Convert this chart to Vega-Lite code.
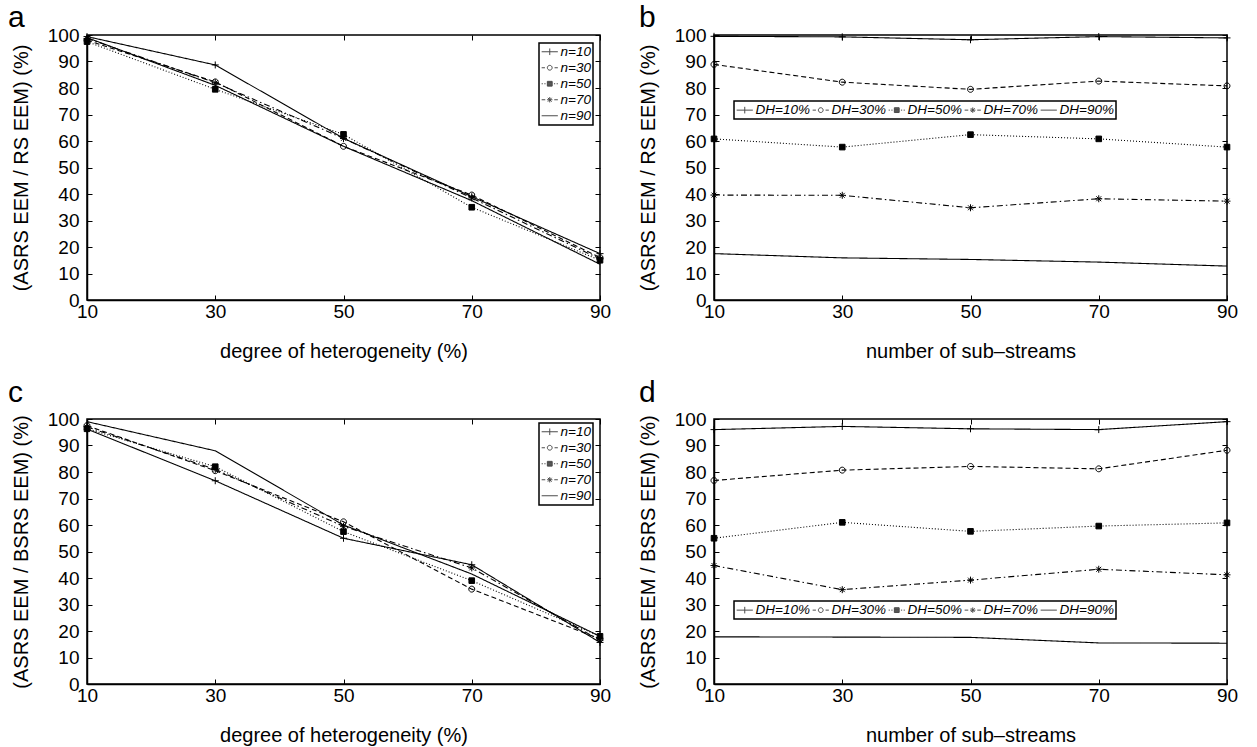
{
  "$schema": "https://vega.github.io/schema/vega-lite/v6.json",
  "autosize": {"type": "pad"},
  "padding": {"left": 7, "top": 2, "right": 5, "bottom": 0},
  "background": "white",
  "bounds": "flush",
  "columns": 2,
  "spacing": {"row": 119, "column": 114},
  "resolve": {"scale": {"shape": "independent"}, "legend": {"shape": "independent"}},
  "datasets": {
    "a": [
      {"x": 10, "y": 99.4, "s": "n=10"}, {"x": 30, "y": 88.7, "s": "n=10"}, {"x": 50, "y": 61, "s": "n=10"}, {"x": 70, "y": 39, "s": "n=10"}, {"x": 90, "y": 17.5, "s": "n=10"},
      {"x": 10, "y": 98, "s": "n=30"}, {"x": 30, "y": 82.3, "s": "n=30"}, {"x": 50, "y": 58, "s": "n=30"}, {"x": 70, "y": 39.6, "s": "n=30"}, {"x": 90, "y": 16, "s": "n=30"},
      {"x": 10, "y": 97.5, "s": "n=50"}, {"x": 30, "y": 79.5, "s": "n=50"}, {"x": 50, "y": 62.5, "s": "n=50"}, {"x": 70, "y": 35, "s": "n=50"}, {"x": 90, "y": 15, "s": "n=50"},
      {"x": 10, "y": 98.7, "s": "n=70"}, {"x": 30, "y": 82, "s": "n=70"}, {"x": 50, "y": 61, "s": "n=70"}, {"x": 70, "y": 38.5, "s": "n=70"}, {"x": 90, "y": 15.5, "s": "n=70"},
      {"x": 10, "y": 99, "s": "n=90"}, {"x": 30, "y": 81, "s": "n=90"}, {"x": 50, "y": 58, "s": "n=90"}, {"x": 70, "y": 37.5, "s": "n=90"}, {"x": 90, "y": 13.5, "s": "n=90"}
    ],
    "b": [
      {"x": 10, "y": 99.5, "s": "DH=10%"}, {"x": 30, "y": 99.3, "s": "DH=10%"}, {"x": 50, "y": 98.2, "s": "DH=10%"}, {"x": 70, "y": 99.4, "s": "DH=10%"}, {"x": 90, "y": 98.9, "s": "DH=10%"},
      {"x": 10, "y": 88.9, "s": "DH=30%"}, {"x": 30, "y": 82.2, "s": "DH=30%"}, {"x": 50, "y": 79.5, "s": "DH=30%"}, {"x": 70, "y": 82.6, "s": "DH=30%"}, {"x": 90, "y": 80.8, "s": "DH=30%"},
      {"x": 10, "y": 60.8, "s": "DH=50%"}, {"x": 30, "y": 57.7, "s": "DH=50%"}, {"x": 50, "y": 62.4, "s": "DH=50%"}, {"x": 70, "y": 60.8, "s": "DH=50%"}, {"x": 90, "y": 57.7, "s": "DH=50%"},
      {"x": 10, "y": 39.6, "s": "DH=70%"}, {"x": 30, "y": 39.5, "s": "DH=70%"}, {"x": 50, "y": 34.8, "s": "DH=70%"}, {"x": 70, "y": 38.2, "s": "DH=70%"}, {"x": 90, "y": 37.3, "s": "DH=70%"},
      {"x": 10, "y": 17.5, "s": "DH=90%"}, {"x": 30, "y": 15.9, "s": "DH=90%"}, {"x": 50, "y": 15.3, "s": "DH=90%"}, {"x": 70, "y": 14.3, "s": "DH=90%"}, {"x": 90, "y": 12.8, "s": "DH=90%"}
    ],
    "c": [
      {"x": 10, "y": 96.2, "s": "n=10"}, {"x": 30, "y": 76.7, "s": "n=10"}, {"x": 50, "y": 55, "s": "n=10"}, {"x": 70, "y": 45, "s": "n=10"}, {"x": 90, "y": 15.7, "s": "n=10"},
      {"x": 10, "y": 97.5, "s": "n=30"}, {"x": 30, "y": 80.5, "s": "n=30"}, {"x": 50, "y": 61.2, "s": "n=30"}, {"x": 70, "y": 35.8, "s": "n=30"}, {"x": 90, "y": 17, "s": "n=30"},
      {"x": 10, "y": 96.3, "s": "n=50"}, {"x": 30, "y": 82, "s": "n=50"}, {"x": 50, "y": 57.5, "s": "n=50"}, {"x": 70, "y": 39, "s": "n=50"}, {"x": 90, "y": 18, "s": "n=50"},
      {"x": 10, "y": 97, "s": "n=70"}, {"x": 30, "y": 81, "s": "n=70"}, {"x": 50, "y": 59.5, "s": "n=70"}, {"x": 70, "y": 43.8, "s": "n=70"}, {"x": 90, "y": 16.5, "s": "n=70"},
      {"x": 10, "y": 99, "s": "n=90"}, {"x": 30, "y": 88, "s": "n=90"}, {"x": 50, "y": 60, "s": "n=90"}, {"x": 70, "y": 41.5, "s": "n=90"}, {"x": 90, "y": 18, "s": "n=90"}
    ],
    "d": [
      {"x": 10, "y": 96, "s": "DH=10%"}, {"x": 30, "y": 97.2, "s": "DH=10%"}, {"x": 50, "y": 96.3, "s": "DH=10%"}, {"x": 70, "y": 96, "s": "DH=10%"}, {"x": 90, "y": 99, "s": "DH=10%"},
      {"x": 10, "y": 76.8, "s": "DH=30%"}, {"x": 30, "y": 80.7, "s": "DH=30%"}, {"x": 50, "y": 82.1, "s": "DH=30%"}, {"x": 70, "y": 81.2, "s": "DH=30%"}, {"x": 90, "y": 88.2, "s": "DH=30%"},
      {"x": 10, "y": 55, "s": "DH=50%"}, {"x": 30, "y": 61, "s": "DH=50%"}, {"x": 50, "y": 57.6, "s": "DH=50%"}, {"x": 70, "y": 59.6, "s": "DH=50%"}, {"x": 90, "y": 60.8, "s": "DH=50%"},
      {"x": 10, "y": 44.7, "s": "DH=70%"}, {"x": 30, "y": 35.6, "s": "DH=70%"}, {"x": 50, "y": 39.2, "s": "DH=70%"}, {"x": 70, "y": 43.3, "s": "DH=70%"}, {"x": 90, "y": 41.2, "s": "DH=70%"},
      {"x": 10, "y": 17.8, "s": "DH=90%"}, {"x": 30, "y": 17.7, "s": "DH=90%"}, {"x": 50, "y": 17.6, "s": "DH=90%"}, {"x": 70, "y": 15.5, "s": "DH=90%"}, {"x": 90, "y": 15.4, "s": "DH=90%"}
    ]
  },
  "concat": [
    {
      "width": 513, "height": 265,
      "data": {"name": "a"},
      "title": {"text": "a", "dx": -79, "offset": -7},
      "resolve": {"axis": {"x": "independent", "y": "independent"}},
      "layer": [
        {"mark": {"type": "line", "color": "black", "strokeWidth": 1.1},
         "encoding": {
           "x": {"field": "x", "type": "quantitative", "scale": {"domain": [10, 90], "nice": false, "zero": false}, "axis": {"orient": "bottom", "values": [10, 30, 50, 70, 90], "title": "degree of heterogeneity (%)"}},
           "y": {"field": "y", "type": "quantitative", "scale": {"domain": [0, 100], "nice": false}, "axis": {"orient": "left", "values": [0, 10, 20, 30, 40, 50, 60, 70, 80, 90, 100], "title": "(ASRS EEM / RS EEM) (%)"}},
           "detail": {"field": "s", "type": "nominal"},
           "strokeDash": {"condition": [{"test": "indexof(datum.s, '30') >= 0", "value": [5, 3]}, {"test": "indexof(datum.s, '50') >= 0", "value": [1, 2]}, {"test": "indexof(datum.s, '70') >= 0", "value": [6, 3, 1.5, 3]}], "value": [1, 0]}
         }},
        {"mark": {"type": "point", "stroke": "black", "strokeWidth": 1, "size": 49, "opacity": 1},
         "encoding": {
           "x": {"field": "x", "type": "quantitative", "axis": null},
           "y": {"field": "y", "type": "quantitative", "axis": null},
           "fill": {"condition": {"test": "indexof(datum.s, '50') >= 0", "value": "black"}, "value": "transparent"},
           "shape": {"condition": [
             {"test": "indexof(datum.s, '30') >= 0", "value": "M0.85,0A0.85,0.85,0,1,1,-0.85,0A0.85,0.85,0,1,1,0.85,0Z"},
             {"test": "indexof(datum.s, '50') >= 0", "value": "M-0.8,-0.8H0.8V0.8H-0.8Z"},
             {"test": "indexof(datum.s, '70') >= 0", "value": "M-1,0H1M0,-1V1M-0.7,-0.7L0.7,0.7M-0.7,0.7L0.7,-0.7"},
             {"test": "indexof(datum.s, '90') >= 0", "value": "M0,0Z"}], "value": "M-1,0H1M0,-1V1"}
         }},
        {"mark": {"type": "point", "size": 0, "color": "black", "strokeWidth": 1, "filled": false},
         "encoding": {
           "x": {"field": "x", "type": "quantitative", "axis": {"orient": "top", "values": [10, 30, 50, 70, 90], "labels": false, "title": null, "domain": false}},
           "y": {"field": "y", "type": "quantitative", "axis": {"orient": "right", "values": [0, 10, 20, 30, 40, 50, 60, 70, 80, 90, 100], "labels": false, "title": null, "domain": false}},
           "shape": {"field": "s", "type": "nominal",
             "scale": {"domain": ["n=10", "n=30", "n=50", "n=70", "n=90"], "range": ["M-1.35,0H1.35M0,-0.55V0.55", "M-1.35,0H-0.8M-0.4,0A0.4,0.4,0,1,1,0.4,0A0.4,0.4,0,1,1,-0.4,0ZM0.8,0H1.35", "M-1.35,0H-1.15M-0.9,0H-0.7M0.7,0H0.9M1.15,0H1.35M-0.4,-0.4H0.4V0.4H-0.4ZM-0.4,-0.3H0.4M-0.4,-0.2H0.4M-0.4,-0.1H0.4M-0.4,0H0.4M-0.4,0.1H0.4M-0.4,0.2H0.4M-0.4,0.3H0.4", "M-1.35,0H-0.75M0.75,0H1.35M-0.45,0H0.45M0,-0.45V0.45M-0.32,-0.32L0.32,0.32M-0.32,0.32L0.32,-0.32", "M-1.35,0H1.35"]},
             "legend": {"orient": "none", "legendX": 452, "legendY": 8, "direction": "vertical"}}
         }}
      ]
    },
    {
      "width": 513, "height": 265,
      "data": {"name": "b"},
      "title": {"text": "b", "dx": -75, "offset": -7},
      "resolve": {"axis": {"x": "independent", "y": "independent"}},
      "layer": [
        {"mark": {"type": "line", "color": "black", "strokeWidth": 1.1},
         "encoding": {
           "x": {"field": "x", "type": "quantitative", "scale": {"domain": [10, 90], "nice": false, "zero": false}, "axis": {"orient": "bottom", "values": [10, 30, 50, 70, 90], "title": "number of sub–streams"}},
           "y": {"field": "y", "type": "quantitative", "scale": {"domain": [0, 100], "nice": false}, "axis": {"orient": "left", "values": [0, 10, 20, 30, 40, 50, 60, 70, 80, 90, 100], "title": "(ASRS EEM / RS EEM) (%)"}},
           "detail": {"field": "s", "type": "nominal"},
           "strokeDash": {"condition": [{"test": "indexof(datum.s, '30') >= 0", "value": [5, 3]}, {"test": "indexof(datum.s, '50') >= 0", "value": [1, 2]}, {"test": "indexof(datum.s, '70') >= 0", "value": [6, 3, 1.5, 3]}], "value": [1, 0]}
         }},
        {"mark": {"type": "point", "stroke": "black", "strokeWidth": 1, "size": 49, "opacity": 1},
         "encoding": {
           "x": {"field": "x", "type": "quantitative", "axis": null},
           "y": {"field": "y", "type": "quantitative", "axis": null},
           "fill": {"condition": {"test": "indexof(datum.s, '50') >= 0", "value": "black"}, "value": "transparent"},
           "shape": {"condition": [
             {"test": "indexof(datum.s, '30') >= 0", "value": "M0.85,0A0.85,0.85,0,1,1,-0.85,0A0.85,0.85,0,1,1,0.85,0Z"},
             {"test": "indexof(datum.s, '50') >= 0", "value": "M-0.8,-0.8H0.8V0.8H-0.8Z"},
             {"test": "indexof(datum.s, '70') >= 0", "value": "M-1,0H1M0,-1V1M-0.7,-0.7L0.7,0.7M-0.7,0.7L0.7,-0.7"},
             {"test": "indexof(datum.s, '90') >= 0", "value": "M0,0Z"}], "value": "M-1,0H1M0,-1V1"}
         }},
        {"mark": {"type": "point", "size": 0, "color": "black", "strokeWidth": 1, "filled": false},
         "encoding": {
           "x": {"field": "x", "type": "quantitative", "axis": {"orient": "top", "values": [10, 30, 50, 70, 90], "labels": false, "title": null, "domain": false}},
           "y": {"field": "y", "type": "quantitative", "axis": {"orient": "right", "values": [0, 10, 20, 30, 40, 50, 60, 70, 80, 90, 100], "labels": false, "title": null, "domain": false}},
           "shape": {"field": "s", "type": "nominal",
             "scale": {"domain": ["DH=10%", "DH=30%", "DH=50%", "DH=70%", "DH=90%"], "range": ["M-1.35,0H1.35M0,-0.55V0.55", "M-1.35,0H-0.8M-0.4,0A0.4,0.4,0,1,1,0.4,0A0.4,0.4,0,1,1,-0.4,0ZM0.8,0H1.35", "M-1.35,0H-1.15M-0.9,0H-0.7M0.7,0H0.9M1.15,0H1.35M-0.4,-0.4H0.4V0.4H-0.4ZM-0.4,-0.3H0.4M-0.4,-0.2H0.4M-0.4,-0.1H0.4M-0.4,0H0.4M-0.4,0.1H0.4M-0.4,0.2H0.4M-0.4,0.3H0.4", "M-1.35,0H-0.75M0.75,0H1.35M-0.45,0H0.45M0,-0.45V0.45M-0.32,-0.32L0.32,0.32M-0.32,0.32L0.32,-0.32", "M-1.35,0H1.35"]},
             "legend": {"orient": "none", "legendX": 20, "legendY": 66, "direction": "horizontal", "columns": 5}}
         }}
      ]
    },
    {
      "width": 513, "height": 265,
      "data": {"name": "c"},
      "title": {"text": "c", "dx": -79, "offset": 2},
      "resolve": {"axis": {"x": "independent", "y": "independent"}},
      "layer": [
        {"mark": {"type": "line", "color": "black", "strokeWidth": 1.1},
         "encoding": {
           "x": {"field": "x", "type": "quantitative", "scale": {"domain": [10, 90], "nice": false, "zero": false}, "axis": {"orient": "bottom", "values": [10, 30, 50, 70, 90], "title": "degree of heterogeneity (%)"}},
           "y": {"field": "y", "type": "quantitative", "scale": {"domain": [0, 100], "nice": false}, "axis": {"orient": "left", "values": [0, 10, 20, 30, 40, 50, 60, 70, 80, 90, 100], "title": "(ASRS EEM / BSRS EEM) (%)"}},
           "detail": {"field": "s", "type": "nominal"},
           "strokeDash": {"condition": [{"test": "indexof(datum.s, '30') >= 0", "value": [5, 3]}, {"test": "indexof(datum.s, '50') >= 0", "value": [1, 2]}, {"test": "indexof(datum.s, '70') >= 0", "value": [6, 3, 1.5, 3]}], "value": [1, 0]}
         }},
        {"mark": {"type": "point", "stroke": "black", "strokeWidth": 1, "size": 49, "opacity": 1},
         "encoding": {
           "x": {"field": "x", "type": "quantitative", "axis": null},
           "y": {"field": "y", "type": "quantitative", "axis": null},
           "fill": {"condition": {"test": "indexof(datum.s, '50') >= 0", "value": "black"}, "value": "transparent"},
           "shape": {"condition": [
             {"test": "indexof(datum.s, '30') >= 0", "value": "M0.85,0A0.85,0.85,0,1,1,-0.85,0A0.85,0.85,0,1,1,0.85,0Z"},
             {"test": "indexof(datum.s, '50') >= 0", "value": "M-0.8,-0.8H0.8V0.8H-0.8Z"},
             {"test": "indexof(datum.s, '70') >= 0", "value": "M-1,0H1M0,-1V1M-0.7,-0.7L0.7,0.7M-0.7,0.7L0.7,-0.7"},
             {"test": "indexof(datum.s, '90') >= 0", "value": "M0,0Z"}], "value": "M-1,0H1M0,-1V1"}
         }},
        {"mark": {"type": "point", "size": 0, "color": "black", "strokeWidth": 1, "filled": false},
         "encoding": {
           "x": {"field": "x", "type": "quantitative", "axis": {"orient": "top", "values": [10, 30, 50, 70, 90], "labels": false, "title": null, "domain": false}},
           "y": {"field": "y", "type": "quantitative", "axis": {"orient": "right", "values": [0, 10, 20, 30, 40, 50, 60, 70, 80, 90, 100], "labels": false, "title": null, "domain": false}},
           "shape": {"field": "s", "type": "nominal",
             "scale": {"domain": ["n=10", "n=30", "n=50", "n=70", "n=90"], "range": ["M-1.35,0H1.35M0,-0.55V0.55", "M-1.35,0H-0.8M-0.4,0A0.4,0.4,0,1,1,0.4,0A0.4,0.4,0,1,1,-0.4,0ZM0.8,0H1.35", "M-1.35,0H-1.15M-0.9,0H-0.7M0.7,0H0.9M1.15,0H1.35M-0.4,-0.4H0.4V0.4H-0.4ZM-0.4,-0.3H0.4M-0.4,-0.2H0.4M-0.4,-0.1H0.4M-0.4,0H0.4M-0.4,0.1H0.4M-0.4,0.2H0.4M-0.4,0.3H0.4", "M-1.35,0H-0.75M0.75,0H1.35M-0.45,0H0.45M0,-0.45V0.45M-0.32,-0.32L0.32,0.32M-0.32,0.32L0.32,-0.32", "M-1.35,0H1.35"]},
             "legend": {"orient": "none", "legendX": 452, "legendY": 4, "direction": "vertical"}}
         }}
      ]
    },
    {
      "width": 513, "height": 265,
      "data": {"name": "d"},
      "title": {"text": "d", "dx": -75, "offset": 2},
      "resolve": {"axis": {"x": "independent", "y": "independent"}},
      "layer": [
        {"mark": {"type": "line", "color": "black", "strokeWidth": 1.1},
         "encoding": {
           "x": {"field": "x", "type": "quantitative", "scale": {"domain": [10, 90], "nice": false, "zero": false}, "axis": {"orient": "bottom", "values": [10, 30, 50, 70, 90], "title": "number of sub–streams"}},
           "y": {"field": "y", "type": "quantitative", "scale": {"domain": [0, 100], "nice": false}, "axis": {"orient": "left", "values": [0, 10, 20, 30, 40, 50, 60, 70, 80, 90, 100], "title": "(ASRS EEM / BSRS EEM) (%)"}},
           "detail": {"field": "s", "type": "nominal"},
           "strokeDash": {"condition": [{"test": "indexof(datum.s, '30') >= 0", "value": [5, 3]}, {"test": "indexof(datum.s, '50') >= 0", "value": [1, 2]}, {"test": "indexof(datum.s, '70') >= 0", "value": [6, 3, 1.5, 3]}], "value": [1, 0]}
         }},
        {"mark": {"type": "point", "stroke": "black", "strokeWidth": 1, "size": 49, "opacity": 1},
         "encoding": {
           "x": {"field": "x", "type": "quantitative", "axis": null},
           "y": {"field": "y", "type": "quantitative", "axis": null},
           "fill": {"condition": {"test": "indexof(datum.s, '50') >= 0", "value": "black"}, "value": "transparent"},
           "shape": {"condition": [
             {"test": "indexof(datum.s, '30') >= 0", "value": "M0.85,0A0.85,0.85,0,1,1,-0.85,0A0.85,0.85,0,1,1,0.85,0Z"},
             {"test": "indexof(datum.s, '50') >= 0", "value": "M-0.8,-0.8H0.8V0.8H-0.8Z"},
             {"test": "indexof(datum.s, '70') >= 0", "value": "M-1,0H1M0,-1V1M-0.7,-0.7L0.7,0.7M-0.7,0.7L0.7,-0.7"},
             {"test": "indexof(datum.s, '90') >= 0", "value": "M0,0Z"}], "value": "M-1,0H1M0,-1V1"}
         }},
        {"mark": {"type": "point", "size": 0, "color": "black", "strokeWidth": 1, "filled": false},
         "encoding": {
           "x": {"field": "x", "type": "quantitative", "axis": {"orient": "top", "values": [10, 30, 50, 70, 90], "labels": false, "title": null, "domain": false}},
           "y": {"field": "y", "type": "quantitative", "axis": {"orient": "right", "values": [0, 10, 20, 30, 40, 50, 60, 70, 80, 90, 100], "labels": false, "title": null, "domain": false}},
           "shape": {"field": "s", "type": "nominal",
             "scale": {"domain": ["DH=10%", "DH=30%", "DH=50%", "DH=70%", "DH=90%"], "range": ["M-1.35,0H1.35M0,-0.55V0.55", "M-1.35,0H-0.8M-0.4,0A0.4,0.4,0,1,1,0.4,0A0.4,0.4,0,1,1,-0.4,0ZM0.8,0H1.35", "M-1.35,0H-1.15M-0.9,0H-0.7M0.7,0H0.9M1.15,0H1.35M-0.4,-0.4H0.4V0.4H-0.4ZM-0.4,-0.3H0.4M-0.4,-0.2H0.4M-0.4,-0.1H0.4M-0.4,0H0.4M-0.4,0.1H0.4M-0.4,0.2H0.4M-0.4,0.3H0.4", "M-1.35,0H-0.75M0.75,0H1.35M-0.45,0H0.45M0,-0.45V0.45M-0.32,-0.32L0.32,0.32M-0.32,0.32L0.32,-0.32", "M-1.35,0H1.35"]},
             "legend": {"orient": "none", "legendX": 20, "legendY": 182, "direction": "horizontal", "columns": 5}}
         }}
      ]
    }
  ],
  "config": {
    "font": "Liberation Sans",
    "view": {"stroke": "black", "strokeWidth": 1.5},
    "title": {"anchor": "start", "frame": "group", "fontSize": 30, "fontWeight": "normal", "font": "Liberation Sans", "color": "black", "baseline": "alphabetic"},
    "axis": {"grid": false, "labelFont": "Liberation Sans", "labelFontSize": 19, "labelColor": "black", "titleFont": "Liberation Sans", "titleFontSize": 20, "titleFontWeight": "normal", "titleColor": "black", "tickColor": "black", "tickSize": -5, "tickWidth": 1, "domainColor": "black", "domainWidth": 1.5, "labelFlush": false, "labelOverlap": false},
    "axisBottom": {"labelPadding": 7, "titleY": 51, "titleBaseline": "middle"},
    "axisLeft": {"labelPadding": 13, "titleX": -66, "titleY": 132.5, "titleAngle": 270, "titleBaseline": "middle", "titleAlign": "center"},
    "legend": {"title": null, "labelFont": "Liberation Sans", "labelFontSize": 13.5, "labelFontStyle": "italic", "labelColor": "black", "strokeColor": "black", "strokeWidth": 1.5, "fillColor": "white", "padding": 2, "symbolSize": 144, "symbolOffset": 2, "symbolStrokeWidth": 1, "symbolStrokeColor": "black", "symbolFillColor": "transparent", "rowPadding": 1, "columnPadding": 0, "labelOffset": 4}
  }
}
